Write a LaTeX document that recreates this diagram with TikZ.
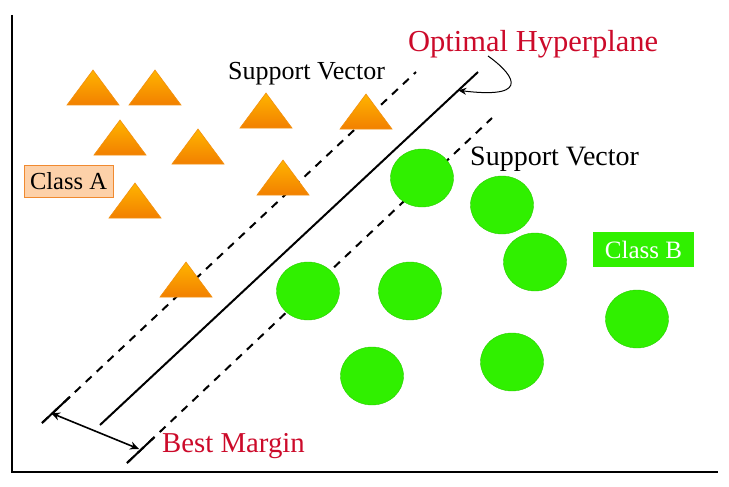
\documentclass[tikz,border=0pt]{standalone}
\usepackage{fontspec}
\setmainfont{Liberation Serif}
\usetikzlibrary{arrows.meta,calc}
\definecolor{redtxt}{HTML}{CC0A2A}
\definecolor{ptgreen}{HTML}{30F000}
\definecolor{triTop}{HTML}{FFB400}
\definecolor{triBot}{HTML}{F28000}
\definecolor{triEdge}{HTML}{F29010}
\definecolor{boxA}{HTML}{FDD1A9}
\definecolor{boxAedge}{HTML}{F08A30}
\tikzset{
  axis/.style={line width=2pt,black},
  tri/.style={draw=triEdge,line width=0.6pt,top color=triTop,bottom color=triBot},
  dot/.style={fill=ptgreen,draw=ptgreen!85!black,line width=0.4pt},
  hyper/.style={line width=2pt,black},
  margin/.style={line width=2pt,black,dash pattern=on 8pt off 7pt},
  tickline/.style={line width=2pt,black},
  lbl/.style={inner sep=0pt,anchor=base west},
  fs/.style={font=\fontsize{#1}{#1}\selectfont},
}
\begin{document}
\begin{tikzpicture}[x=1pt,y=-1pt]
\useasboundingbox (0,0) rectangle (729,487);
% axes
\coordinate (o) at (12,472);
\coordinate (ytop) at (12,15);
\coordinate (xend) at (718,472);
\draw[axis] (ytop) -- (o) -- (xend);
% lines
\coordinate (hA) at (100,425);
\coordinate (hB) at (478,72);
\coordinate (uA) at (42,423);
\coordinate (uB) at (416,72);
\coordinate (lA) at (127,463);
\coordinate (lB) at (492,118);
\draw[hyper] (hA) -- (hB);
\draw[margin] (uA) -- (uB);
\draw[margin] (lA) -- (lB);
\draw[tickline] (uA) -- ($(uA)!0.075!(uB)$);
\draw[tickline] (lA) -- ($(lA)!0.075!(lB)$);
% triangles (apex positions)
\foreach \x/\y in {93/70,155/70,120/120,198/129,135/183,266/93,366/94,283/160,186/262}{
  \draw[tri] (\x,\y) -- ({\x+26},{\y+35}) -- ({\x-26},{\y+35}) -- cycle;
}
% circles
\foreach \x/\y in {422/178,502/205,535/262,308/291,410/291,372/376,512/362,637/319}{
  \fill[dot] (\x,\y) ellipse [x radius=31.5,y radius=29];
}
% best margin arrow
\coordinate (mA) at (51,413);
\coordinate (mB) at (139,449);
\draw[line width=1.6pt,{Stealth[length=9pt,width=8pt]}-{Stealth[length=9pt,width=8pt]}] (mA) -- (mB);
% labels
\node[lbl,fs=30.5,text=redtxt] (opt) at (408,52) {Optimal Hyperplane};
\node[lbl,fs=26] (sv1) at (228,80) {Support Vector};
\node[lbl,fs=28] (sv2) at (470,165) {Support Vector};
\node[lbl,fs=28.8,text=redtxt] (bm) at (162,452) {Best Margin};
\node[draw=boxAedge,fill=boxA,line width=1pt,minimum width=89pt,minimum height=32pt,inner sep=0pt,fs=24.5] (ca) at (68.5,181) {Class A};
\node[fill=ptgreen,text=white,minimum width=101pt,minimum height=35pt,inner sep=0pt,fs=25] (cb) at (643.5,249.5) {Class B};
% curved arrow
\coordinate (oStart) at (488,56);
\coordinate (oTip) at ($(hA)!0.948!(hB)$);
\draw[line width=1pt,-{Stealth[length=8pt,width=7pt]}] (oStart) .. controls (508,70) and (538,100) .. (oTip);
\end{tikzpicture}
\end{document}
